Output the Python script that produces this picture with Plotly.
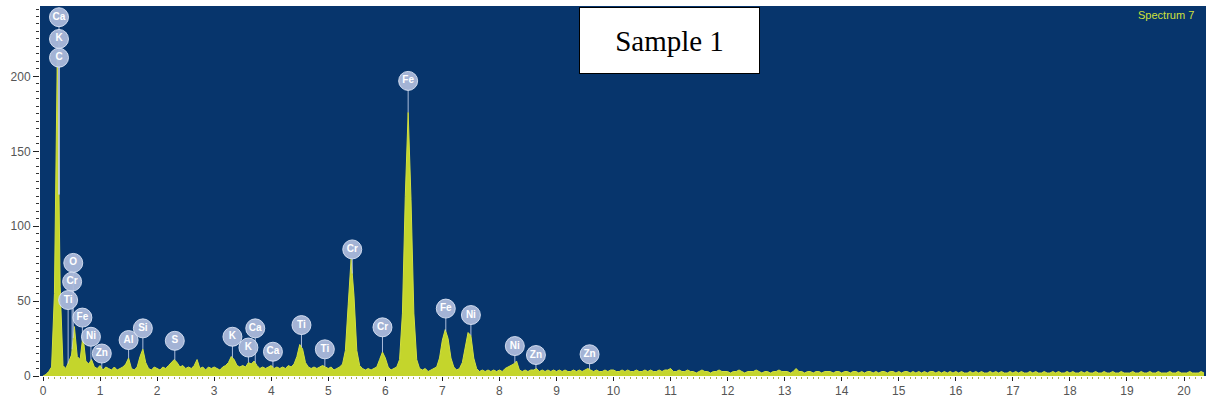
import numpy as np
import plotly.graph_objects as go

# EDS spectrum: counts per 0.05 keV channel, starting at 0.00 keV
channel_start_keV = 0.0
channel_width_keV = 0.05
counts = [
    0, 1, 3, 6, 55, 213, 60, 7, 5, 9, 14, 33, 13, 11, 27, 10, 8, 11, 6, 5,          # 0-1 keV
    7, 4, 6, 5, 4, 6, 4, 5, 6, 8, 12, 5, 4, 6, 13, 18, 9, 5, 4, 6,                  # 1-2
    5, 4, 6, 5, 7, 9, 11, 9, 6, 7, 5, 6, 5, 7, 11, 5, 6, 4, 6, 5,                   # 2-3
    6, 5, 4, 6, 7, 9, 13, 11, 7, 6, 7, 6, 9, 8, 10, 7, 5, 6, 5, 6,                  # 3-4
    7, 5, 6, 5, 6, 5, 7, 6, 8, 13, 21, 18, 9, 6, 5, 6, 5, 6, 7, 6,                  # 4-5
    5, 6, 4, 5, 6, 8, 17, 48, 78, 54, 17, 7, 5, 4, 5, 4, 5, 6, 11, 16,              # 5-6
    12, 6, 4, 5, 6, 11, 42, 120, 176, 118, 42, 11, 5, 4, 5, 3, 4, 5, 6, 12,         # 6-7
    24, 31, 25, 12, 6, 4, 5, 9, 20, 29, 27, 12, 5, 3, 4, 3, 4, 3, 4, 3,             # 7-8
    4, 3, 5, 6, 7, 8, 10, 4, 3, 4, 3, 4, 4, 5, 3, 4, 3, 4, 3, 4,                    # 8-9
    3, 4, 3, 4, 3, 3, 4, 3, 4, 3, 4, 5, 4, 3, 4, 3, 3, 4, 3, 4,                     # 9-10
    4, 3, 3, 4, 3, 4, 3, 3, 4, 3, 3, 4, 3, 4, 3, 3, 4, 3, 4, 4,                     # 10-11
    5, 3, 3, 4, 3, 3, 4, 3, 3, 2, 3, 4, 3, 3, 2, 3, 3, 4, 3, 3,                     # 11-12
    3, 2, 3, 3, 4, 3, 2, 3, 3, 3, 4, 3, 2, 3, 3, 2, 3, 3, 4, 3,                     # 12-13
    3, 3, 2, 3, 5, 3, 3, 2, 3, 3, 2, 3, 3, 2, 3, 3, 3, 2, 3, 3,                     # 13-14
    2, 3, 3, 2, 3, 3, 2, 3, 2, 3, 3, 2, 3, 2, 3, 3, 2, 3, 3, 2,                     # 14-15
    3, 2, 3, 3, 2, 3, 2, 3, 2, 3, 2, 3, 3, 2, 3, 2, 3, 2, 3, 2,                     # 15-16
    3, 2, 3, 2, 2, 3, 2, 3, 2, 3, 2, 2, 3, 2, 3, 2, 3, 2, 2, 3,                     # 16-17
    2, 3, 2, 3, 2, 2, 3, 2, 3, 2, 2, 3, 2, 2, 3, 2, 3, 2, 2, 3,                     # 17-18
    2, 3, 2, 2, 3, 2, 3, 2, 2, 3, 2, 2, 3, 2, 2, 3, 2, 2, 3, 2,                     # 18-19
    2, 2, 3, 2, 2, 3, 2, 2, 3, 2, 2, 3, 2, 2, 2, 3, 2, 2, 3, 2,                     # 19-20
    2, 2, 3, 2, 2, 2, 3, 2,                                                         # 20-20.35
]

# Element line markers: name, energy (keV), badge height (counts)
label_text = ["Ca", "K", "C", "O", "Cr", "Ti", "Fe", "Ni", "Zn", "Al", "Si", "S",
              "K", "K", "Ca", "Ca", "Ti", "Ti", "Cr", "Cr", "Fe", "Fe", "Ni", "Ni",
              "Zn", "Zn"]
label_keV = [0.28, 0.28, 0.28, 0.53, 0.51, 0.44, 0.69, 0.84, 1.03, 1.50, 1.75, 2.31,
             3.32, 3.60, 3.72, 4.03, 4.53, 4.94, 5.42, 5.95, 6.40, 7.06, 7.50, 8.27,
             8.64, 9.58]
label_counts = [239.5, 225, 212.5, 75.5, 63, 50.7, 39, 26.2, 15, 24, 31.8, 23.5,
                26.2, 19, 31.8, 16.2, 34, 17.8, 84.5, 32.5, 197, 45, 40.7, 20,
                14, 14.5]

x_ticks = list(range(0, 21))
y_ticks = [0, 50, 100, 150, 200]

energy = channel_start_keV + channel_width_keV * np.arange(len(counts))
counts_arr = np.array(counts, dtype=float)

fig = go.Figure()

fig.add_trace(go.Scatter(
    x=energy, y=counts_arr, mode="lines", fill="tozeroy",
    fillcolor="#c4d52c", line=dict(color="#d3e03e", width=1),
    hoverinfo="skip", showlegend=False,
))

# Thin leader lines from each badge down to the spectrum
badge_radius_counts = 6.0
stem_x, stem_y = [], []
for e, c in zip(label_keV, label_counts):
    base = float(np.interp(e, energy, counts_arr))
    top = c - badge_radius_counts
    if top > base:
        stem_x += [e, e, None]
        stem_y += [top, base, None]
fig.add_trace(go.Scatter(
    x=stem_x, y=stem_y, mode="lines",
    line=dict(color="rgba(200,212,238,0.85)", width=1),
    hoverinfo="skip", showlegend=False,
))

fig.add_trace(go.Scatter(
    x=label_keV, y=label_counts, mode="markers+text",
    text=label_text, textposition="middle center",
    textfont=dict(family="Liberation Sans, Arial", size=10, color="white", weight="bold"),
    marker=dict(size=19, color="rgba(172,187,219,0.95)",
                line=dict(color="rgba(220,228,245,0.9)", width=1)),
    hoverinfo="skip", showlegend=False, cliponaxis=False,
))

fig.update_layout(
    width=1206, height=402,
    margin=dict(l=40, r=0, t=6, b=26),
    paper_bgcolor="white",
    plot_bgcolor="#07356c",
    showlegend=False,
    xaxis=dict(
        range=[-0.053, 20.385], tickvals=x_ticks, ticks="outside", ticklen=4,
        tickcolor="#222", tickwidth=1, showgrid=False, zeroline=False, showline=False,
        tickfont=dict(family="Liberation Sans, Arial", size=12, color="#555"),
        minor=dict(dtick=0.1, tick0=0, ticks="outside", ticklen=2, tickcolor="#a8ad55"),
    ),
    yaxis=dict(
        range=[0, 247], tickvals=y_ticks, ticks="outside", ticklen=6,
        tickcolor="#222", tickwidth=1, showgrid=False, zeroline=False, showline=False,
        tickfont=dict(family="Liberation Sans, Arial", size=12, color="#555"),
        minor=dict(dtick=5, tick0=0, ticks="outside", ticklen=3, tickcolor="#333"),
    ),
    annotations=[
        dict(text="Sample 1", xref="paper", yref="paper", x=0.540, y=0.9068,
             xanchor="center", yanchor="middle", showarrow=False,
             width=179, height=65, borderpad=0, borderwidth=1,
             bordercolor="black", bgcolor="white",
             font=dict(family="Liberation Serif, Times New Roman", size=29, color="black")),
        dict(text="Spectrum 7", xref="paper", yref="paper", x=1.0, y=0.9757,
             xanchor="right", yanchor="middle", xshift=-10, showarrow=False,
             font=dict(family="Liberation Sans, Arial", size=11, color="#cfe03a")),
    ],
)

fig.write_html("out.html")
